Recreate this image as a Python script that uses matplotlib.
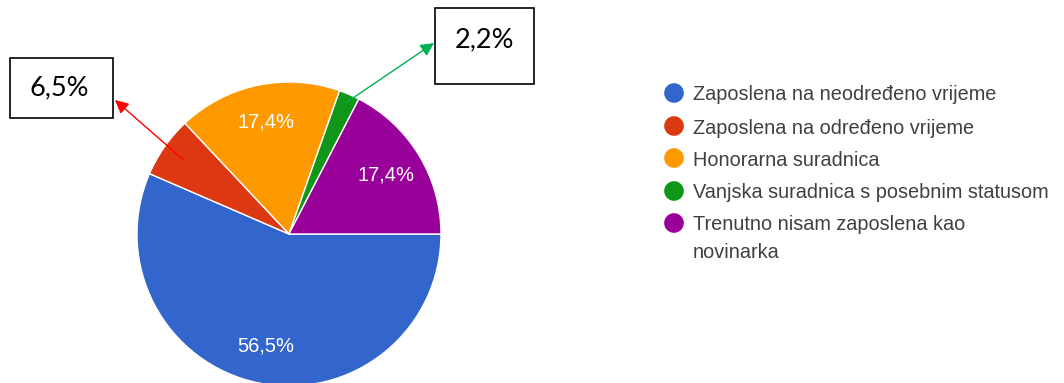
import numpy as np
import matplotlib
matplotlib.use("Agg")
import matplotlib.pyplot as plt
from matplotlib.patches import Rectangle

# survey answers, share of respondents in percent
categories = [
    "Zaposlena na neodređeno vrijeme",
    "Zaposlena na određeno vrijeme",
    "Honorarna suradnica",
    "Vanjska suradnica s posebnim statusom",
    "Trenutno nisam zaposlena kao\nnovinarka",
]
shares = [56.5, 6.5, 17.4, 2.2, 17.4]
colors = ["#3366cc", "#dc3912", "#ff9900", "#109618", "#990099"]

W, H = 1064, 383
fig = plt.figure(figsize=(W / 100, H / 100), dpi=100)
ax = fig.add_axes([0, 0, 1, 1])

def Y(py):  # pixel row -> data y
    return H - py

cx, cy, R = 289, Y(234), 152

def fmt(p):
    return f"{p:.1f}".replace(".", ",") + "%" if p >= 10 else ""

wedges, _, autotexts = ax.pie(
    shares, colors=colors, startangle=0, counterclock=False,
    center=(cx, cy), radius=R, autopct=fmt, pctdistance=0.75,
    wedgeprops=dict(edgecolor="white", linewidth=1),
    textprops=dict(color="white", fontsize=14.5, family="Liberation Sans"),
)
ax.set_xlim(0, W)
ax.set_ylim(0, H)
ax.set_aspect("equal")
ax.axis("off")

# small slices get a callout box with an arrow
def mid_point(w, frac):
    a = np.deg2rad((w.theta1 + w.theta2) / 2)
    return cx + frac * R * np.cos(a), cy + frac * R * np.sin(a)

callouts = [
    # slice index, box (x, y, w, h) in pixels, text pos, arrow tip, colour, start fraction
    (1, (10, 58, 103, 60), (59, 88), (115, 100), "#ff0000", 0.85),
    (3, (435, 8, 99, 76), (485, 40), (434, 43), "#00b050", 0.94),
]
for i, (bx, by, bw, bh), (tx, ty), tip, col, frac in callouts:
    ax.add_patch(Rectangle((bx, Y(by + bh)), bw, bh, facecolor="white",
                           edgecolor="black", linewidth=1.2))
    ax.text(tx, Y(ty), f"{shares[i]:.1f}".replace(".", ",") + "%",
            ha="center", va="center", fontsize=19.5, family="Lato", color="black")
    ax.annotate("", xy=(tip[0], Y(tip[1])), xytext=mid_point(wedges[i], frac),
                arrowprops=dict(arrowstyle="-|>", color=col, lw=1,
                                mutation_scale=20, shrinkA=0, shrinkB=0))

# legend
rows = [93, 126, 158, 191, 223]
for lab, col, ry in zip(categories, colors, rows):
    ax.scatter([674], [Y(ry)], s=200, color=col, edgecolors="none")
    ax.text(693, Y(ry - 7.5), lab, ha="left", va="top", fontsize=14.3,
            family="Liberation Sans", color="#404040", linespacing=1.55)

fig.savefig("out.png", dpi=100)
